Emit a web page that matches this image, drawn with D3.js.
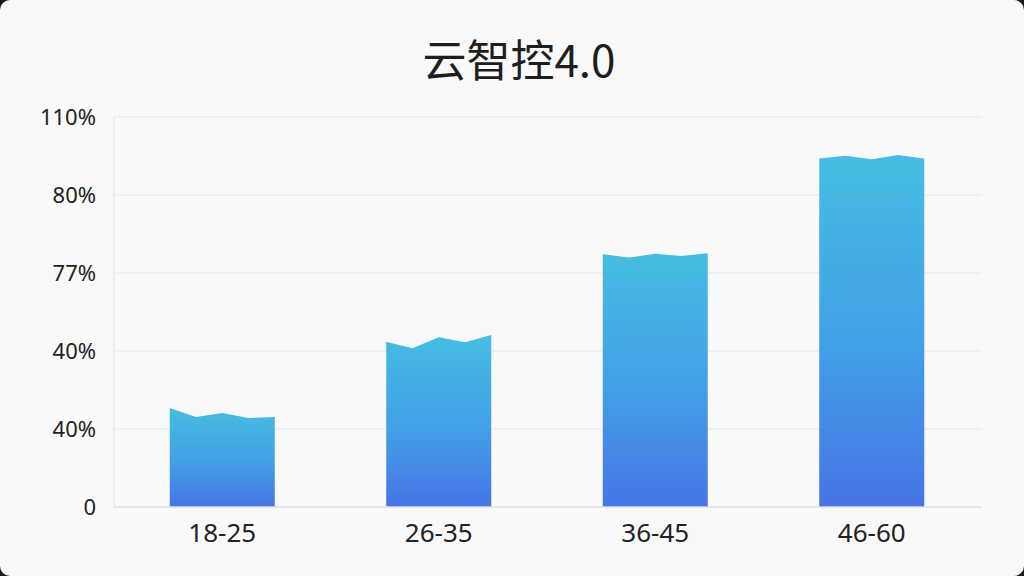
<!DOCTYPE html>
<html><head><meta charset="utf-8">
<script src="https://cdn.jsdelivr.net/npm/d3@7"></script>
<style>
html,body{margin:0;padding:0;background:#1a1a1a;}
svg{display:block;}
</style></head>
<body>
<svg id="c" width="1024" height="576"></svg>
<script>
// ---- data ----
const title = "云智控4.0";
const categories = ["18-25", "26-35", "36-45", "46-60"];
// top profile of each bar (5 points across the bar), in axis units (0..110)
const topProfile1 = [27.9, 25.4, 26.5, 25.1, 25.4];
const topProfile2 = [46.6, 44.8, 47.9, 46.5, 48.5];
const topProfile3 = [71.3, 70.4, 71.4, 70.8, 71.6];
const topProfile4 = [98.3, 99.1, 98.1, 99.3, 98.3];
const tickValues = [0, 22, 44, 66, 88, 110];
const tickLabels = ["0", "40%", "40%", "77%", "80%", "110%"];

const profiles = [topProfile1, topProfile2, topProfile3, topProfile4];

const svg = d3.select("#c");
const W = 1024, H = 576;
const m = {left:114, right:44, top:117, bottom:69};

svg.append("rect").attr("x",0).attr("y",0).attr("width",W).attr("height",H)
  .attr("rx",10).attr("fill","#f9f9fa");

const x = d3.scaleBand().domain(categories).range([m.left, W-m.right]).paddingInner(0.515).paddingOuter(0.2575);
const y = d3.scaleLinear().domain([0,110]).range([H-m.bottom, m.top]);

const defs = svg.append("defs");
const grad = defs.append("linearGradient").attr("id","g").attr("x1",0).attr("y1",0).attr("x2",0).attr("y2",1);
grad.append("stop").attr("offset","0%").attr("stop-color","#46bde2");
grad.append("stop").attr("offset","55%").attr("stop-color","#429fe6");
grad.append("stop").attr("offset","100%").attr("stop-color","#4774e6");

// grid
svg.append("g").selectAll("line").data(tickValues.slice(1)).join("line")
  .attr("x1",m.left).attr("x2",W-m.right+2)
  .attr("y1",d=>y(d)).attr("y2",d=>y(d))
  .attr("stroke","#e7e8ea").attr("stroke-width",1.2);

// left axis line
svg.append("line").attr("x1",m.left).attr("x2",m.left).attr("y1",y(110)).attr("y2",y(0))
  .attr("stroke","#e3e5e8").attr("stroke-width",1.2);

// bars
profiles.forEach((p,i)=>{
  const x0 = x(categories[i]), bw = x.bandwidth();
  const sx = d3.scalePoint().domain(d3.range(p.length)).range([x0, x0+bw]);
  const pts = p.map((v,j)=>[sx(j), y(v)]);
  const path = d3.path();
  path.moveTo(x0, y(0));
  pts.forEach(pt=>path.lineTo(pt[0], pt[1]));
  path.lineTo(x0+bw, y(0));
  path.closePath();
  svg.append("path").attr("d", path.toString()).attr("fill","url(#g)");
});

// baseline
svg.append("line").attr("x1",m.left).attr("x2",W-m.right+2).attr("y1",y(0)).attr("y2",y(0))
  .attr("stroke","#dcdfe3").attr("stroke-width",1.4);

const font = "'Noto Sans', 'Noto Sans CJK SC', sans-serif";

// y labels
svg.append("g").selectAll("text").data(tickValues).join("text")
  .attr("x",96).attr("y",d=>y(d)).attr("dy","0.35em")
  .attr("text-anchor","end")
  .attr("font-family",font)
  .attr("font-size",22).attr("fill","#222")
  .text((d,i)=>tickLabels[i]);

// x labels
svg.append("g").selectAll("text").data(categories).join("text")
  .attr("x",d=>x(d)+x.bandwidth()/2).attr("y",533).attr("dy","0.35em")
  .attr("text-anchor","middle")
  .attr("font-family",font)
  .attr("font-size",26).attr("fill","#222")
  .text(d=>d);

// title
svg.append("text").attr("x",519).attr("y",62).attr("dy","0.35em")
  .attr("text-anchor","middle")
  .attr("font-family","'Noto Sans CJK SC', 'Noto Sans', sans-serif")
  .attr("font-size",44).attr("fill","#1e1e1e")
  .text(title);
</script>
</body></html>
